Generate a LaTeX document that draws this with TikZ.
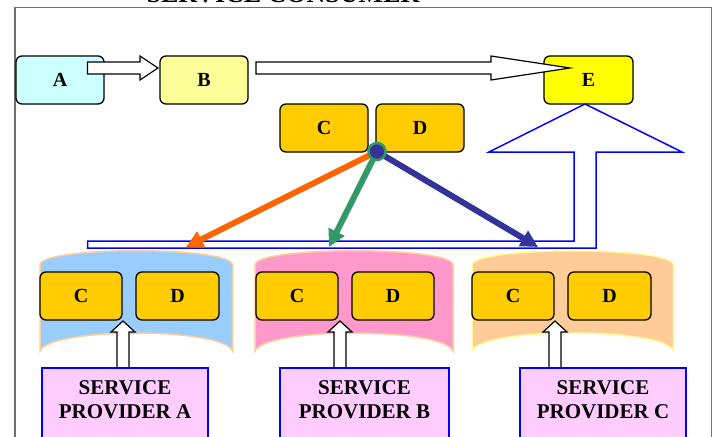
\documentclass[tikz,border=0pt]{standalone}
\usepackage{fontspec}
\setmainfont{Liberation Serif}
\usetikzlibrary{arrows.meta,calc}
\definecolor{cyanbox}{HTML}{CCFFFF}
\definecolor{lyellow}{HTML}{FFFF99}
\definecolor{yellowbox}{HTML}{FFFF00}
\definecolor{goldbox}{HTML}{FFCC00}
\definecolor{grpblue}{HTML}{99CCFF}
\definecolor{grppink}{HTML}{FF99CC}
\definecolor{grppeach}{HTML}{FFCC99}
\definecolor{provpink}{HTML}{FFCCFF}
\definecolor{arrorange}{HTML}{FF6600}
\definecolor{arrgreen}{HTML}{339966}
\definecolor{arrnavy}{HTML}{333399}
\definecolor{framegray}{HTML}{707070}
\newcommand\provgroup[4]{%
  \draw[draw=#4, line width=1.5pt, fill=#3] (#1,265) .. controls (#1,246) and (#2,246) .. (#2,265)
    -- (#2,351) .. controls (#2-10,327) and (#1+10,327) .. (#1,351) -- cycle;}
\newcommand\uparr[1]{%
  \draw[blockarr] (#1,321) -- (#1+12,332) -- (#1+6,332) -- (#1+6,368) -- (#1-6,368) -- (#1-6,332) -- (#1-12,332) -- cycle;}
\begin{document}
\begin{tikzpicture}[x=1pt,y=-1pt,
  box/.style={draw=black, line width=1.3pt, rounded corners=6pt, minimum height=48pt,
    inner sep=0pt, font=\fontsize{20}{24}\selectfont\bfseries},
  blockarr/.style={draw=black, line width=1.2pt, fill=white},
  prov/.style={draw=blue, line width=1.6pt, fill=provpink, minimum height=80pt, inner sep=0pt},
  provtext/.style={align=center, font=\fontsize{21}{24}\selectfont\bfseries, inner sep=0pt},
  thick arrow/.style={line width=6pt, -{Triangle[length=17pt,width=17pt]}}]
\clip (0,0) rectangle (714,436);
\fill[white] (0,0) rectangle (714,436);
% frame
\draw[framegray, line width=1.4pt] (15,7.5) rectangle (711.7,460);
\node[font=\fontsize{26}{30}\selectfont\bfseries, anchor=base, inner sep=0pt] (title) at (283,3) {SERVICE CONSUMER};
% top boxes
\node[box, fill=cyanbox, minimum width=88pt] (A) at (60,80) {A};
\node[box, fill=lyellow, minimum width=88pt] (B) at (204,80) {B};
\node[box, fill=yellowbox, minimum width=89pt] (E) at (588.5,80) {E};
\node[box, fill=goldbox, minimum width=88pt] (Ct) at (324,128) {C};
\node[box, fill=goldbox, minimum width=88pt] (Dt) at (420,128) {D};
% block arrows
\draw[blockarr] (87.5,62) -- (140,62) -- (140,56) -- (158,68) -- (140,80) -- (140,74) -- (87.5,74) -- cycle;
\draw[blockarr] (256,62) -- (491,62) -- (491,56) -- (570,68) -- (491,80) -- (491,74) -- (256,74) -- cycle;
% blue L-shaped arrow
\draw[blue, line width=1.5pt, fill=white] (87.5,241) -- (574,241) -- (574,152) -- (489,152) -- (585,104)
  -- (682,152) -- (596,152) -- (596,248) -- (87.5,248) -- cycle;
% provider groups
\provgroup{40}{232.5}{grpblue}{grppeach}
\provgroup{255}{453}{grppink}{grppeach}
\provgroup{472}{673.5}{grppeach}{lyellow}
% bottom C/D boxes
\node[box, fill=goldbox, minimum width=82pt] (Ca) at (81,296) {C};
\node[box, fill=goldbox, minimum width=83pt] (Da) at (177.5,296) {D};
\node[box, fill=goldbox, minimum width=82pt] (Cb) at (297,296) {C};
\node[box, fill=goldbox, minimum width=82pt] (Db) at (393,296) {D};
\node[box, fill=goldbox, minimum width=82pt] (Cc) at (513,296) {C};
\node[box, fill=goldbox, minimum width=83pt] (Dc) at (609.5,296) {D};
% up arrows
\uparr{123}
\uparr{340}
\uparr{555}
% providers
\node[prov, minimum width=166pt] (pA) at (125,408) {};
\node[prov, minimum width=169pt] (pB) at (364.5,408) {};
\node[prov, minimum width=166pt] (pC) at (603,408) {};
\node[provtext] (tA) at (125,400) {SERVICE\\PROVIDER A};
\node[provtext] (tB) at (364.5,400) {SERVICE\\PROVIDER B};
\node[provtext] (tC) at (603,400) {SERVICE\\PROVIDER C};
% hub arrows
\coordinate (hub) at (377,151.5);
\coordinate (tipA) at (186,247);
\coordinate (tipB) at (329,247);
\coordinate (tipC) at (538,247);
\draw[thick arrow, arrorange] (hub) -- (tipA);
\draw[thick arrow, arrgreen] (hub) -- (tipB);
\draw[thick arrow, arrnavy] (hub) -- (tipC);
\draw[arrgreen, line width=2.5pt, fill=arrnavy] (hub) circle (8.5pt);
\end{tikzpicture}
\end{document}
